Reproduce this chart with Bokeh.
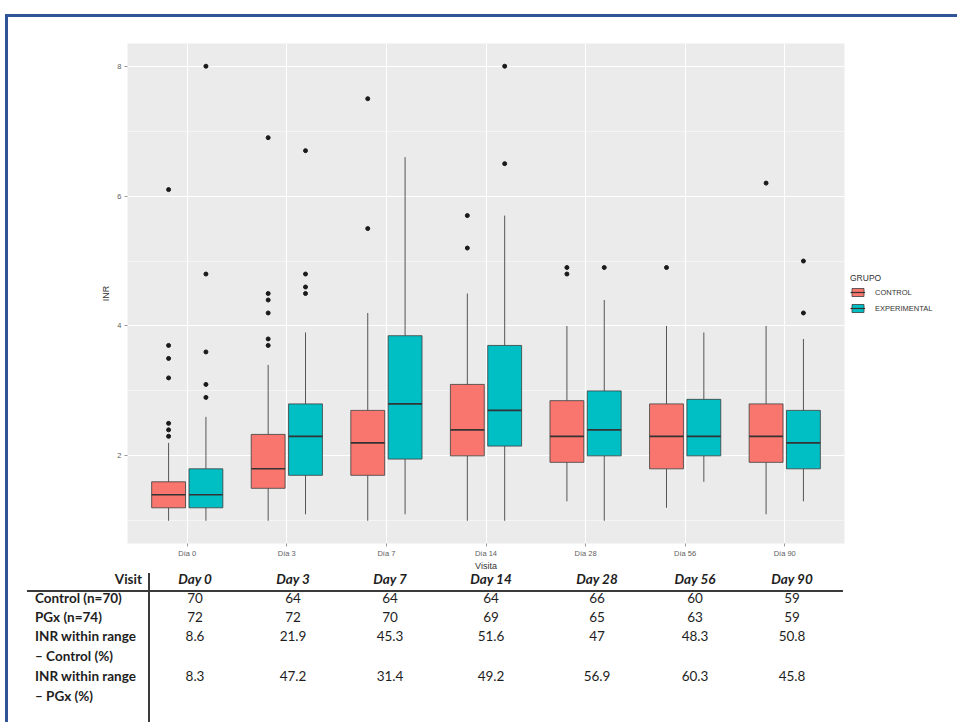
import numpy as np
from bokeh.plotting import figure
from bokeh.models import (Range1d, FixedTicker, Legend, LegendItem,
                          ColumnDataSource, Div)
from bokeh.layouts import column, row
from bokeh.embed import file_html
from bokeh.resources import INLINE

# ---------------- data ----------------
categories = ["Día 0", "Día 3", "Día 7", "Día 14", "Día 28", "Día 56", "Día 90"]
groups = ["CONTROL", "EXPERIMENTAL"]

ctrl_lower = [1.0, 1.0, 1.0, 1.0, 1.3, 1.2, 1.1]
ctrl_q1    = [1.2, 1.5, 1.7, 2.0, 1.9, 1.8, 1.9]
ctrl_med   = [1.4, 1.8, 2.2, 2.4, 2.3, 2.3, 2.3]
ctrl_q3    = [1.6, 2.33, 2.7, 3.1, 2.85, 2.8, 2.8]
ctrl_upper = [2.2, 3.4, 4.2, 4.5, 4.0, 4.0, 4.0]
ctrl_out = [[2.3, 2.4, 2.5, 3.2, 3.5, 3.7, 6.1],
            [3.7, 3.8, 4.2, 4.4, 4.5, 6.9],
            [5.5, 7.5],
            [5.2, 5.7],
            [4.8, 4.9],
            [4.9],
            [6.2]]

exp_lower = [1.0, 1.1, 1.1, 1.0, 1.0, 1.6, 1.3]
exp_q1    = [1.2, 1.7, 1.95, 2.15, 2.0, 2.0, 1.8]
exp_med   = [1.4, 2.3, 2.8, 2.7, 2.4, 2.3, 2.2]
exp_q3    = [1.8, 2.8, 3.85, 3.7, 3.0, 2.87, 2.7]
exp_upper = [2.6, 3.9, 6.6, 5.7, 4.4, 3.9, 3.8]
exp_out = [[2.9, 3.1, 3.6, 4.8, 8.0],
           [4.5, 4.6, 4.8, 6.7],
           [],
           [6.5, 8.0],
           [4.9],
           [],
           [4.2, 5.0]]

y_ticks = [2, 4, 6, 8]
y_minor = [1, 3, 5, 7]

visits = ["Day 0", "Day 3", "Day 7", "Day 14", "Day 28", "Day 56", "Day 90"]
control_n = ["70", "64", "64", "64", "66", "60", "59"]
pgx_n = ["72", "72", "70", "69", "65", "63", "59"]
inr_control = ["8.6", "21.9", "45.3", "51.6", "47", "48.3", "50.8"]
inr_pgx = ["8.3", "47.2", "31.4", "49.2", "56.9", "60.3", "45.8"]
row_labels = ["Control (n=70)", "PGx (n=74)", "INR within range", "– Control (%)",
              "INR within range", "– PGx (%)"]

# ---------------- styles ----------------
RED = "#F8766D"
TEAL = "#00BFC4"
BLUE = "#2F5597"
FONT = "Liberation Sans"
BOX_W = 0.34
DODGE = 0.1875
BOX_LINE = "#3c3c3c"
MED_LINE = "#333333"

PAGE_W = 957
FIG_H = 573
P_W = 846
L_W = PAGE_W - P_W


def blue_strips(width, height, left=True):
    imgs = [f"linear-gradient({BLUE}, {BLUE})"]
    sizes = [f"{width}px 3px"]
    pos = ["0px 14px" if not left else "5px 14px"]
    if left:
        imgs.append(f"linear-gradient({BLUE}, {BLUE})")
        sizes.append(f"3px {height}px")
        pos.append("5px 14px")
    return {"background-image": ", ".join(imgs), "background-size": ", ".join(sizes),
            "background-position": ", ".join(pos), "background-repeat": "no-repeat"}


# ---------------- box plot ----------------
p = figure(width=P_W, height=FIG_H, title=None,
           x_range=Range1d(0.4, 7.6), y_range=Range1d(0.65, 8.35),
           output_backend="svg", toolbar_location=None,
           min_border_left=127, min_border_right=P_W - 127 - 717,
           min_border_top=43, min_border_bottom=29)
p.background_fill_color = "#EBEBEB"
p.border_fill_alpha = 0
p.outline_line_color = None
p.styles = blue_strips(P_W, FIG_H, left=True)

xi = np.arange(1, len(categories) + 1, dtype=float)

p.xaxis.ticker = FixedTicker(ticks=list(xi))
p.xaxis.major_label_overrides = {float(x): c for x, c in zip(xi, categories)}
p.yaxis.ticker = FixedTicker(ticks=y_ticks, minor_ticks=y_minor)
for ax in (p.xaxis, p.yaxis):
    ax.axis_line_color = None
    ax.major_tick_in = 0
    ax.major_tick_out = 3
    ax.major_tick_line_color = "#9a9a9a"
    ax.minor_tick_line_color = None
    ax.major_label_text_font = FONT
    ax.major_label_text_font_size = "7.5px"
    ax.major_label_text_color = "#5e5e5e"
    ax.major_label_standoff = 2
    ax.axis_label_text_font = FONT
    ax.axis_label_text_font_style = "normal"
    ax.axis_label_text_color = "#333333"
    ax.axis_label_text_font_size = "9px"
p.xaxis.axis_label = "Visita"
p.xaxis.axis_label_standoff = 0
p.yaxis.axis_label = "INR"
p.yaxis.axis_label_standoff = 3

p.xgrid.ticker = FixedTicker(ticks=list(xi))
p.xgrid.grid_line_color = "white"
p.xgrid.grid_line_width = 1.1
p.ygrid.grid_line_color = "white"
p.ygrid.grid_line_width = 1.1
p.ygrid.minor_grid_line_color = "white"
p.ygrid.minor_grid_line_width = 0.5


def draw_group(xs, lower, q1, med, q3, upper, outs, color):
    src = ColumnDataSource(dict(x=xs, xl=xs - BOX_W / 2, xr=xs + BOX_W / 2,
                                lower=lower, q1=q1, med=med, q3=q3, upper=upper))
    p.segment(x0="x", y0="q3", x1="x", y1="upper", source=src,
              line_color="#555555", line_width=1)
    p.segment(x0="x", y0="q1", x1="x", y1="lower", source=src,
              line_color="#555555", line_width=1)
    p.vbar(x="x", width=BOX_W, bottom="q1", top="q3", source=src,
           fill_color=color, line_color=BOX_LINE, line_width=0.8)
    p.segment(x0="xl", y0="med", x1="xr", y1="med", source=src,
              line_color=MED_LINE, line_width=1.6)
    ox, oy = [], []
    for x, vals in zip(xs, outs):
        for v in vals:
            ox.append(x)
            oy.append(v)
    p.scatter(x=ox, y=oy, size=4, color="#1a1a1a")


draw_group(xi - DODGE, ctrl_lower, ctrl_q1, ctrl_med, ctrl_q3,
           ctrl_upper, ctrl_out, RED)
draw_group(xi + DODGE, exp_lower, exp_q1, exp_med, exp_q3,
           exp_upper, exp_out, TEAL)

# ---------------- legend (its own small canvas to the right of the panel) ----------------
lf = figure(width=L_W, height=FIG_H, title=None,
            x_range=Range1d(0, 1), y_range=Range1d(0, 1),
            output_backend="svg", toolbar_location=None,
            x_axis_type=None, y_axis_type=None,
            min_border_left=0, min_border_right=0,
            min_border_top=43, min_border_bottom=29)
lf.grid.visible = False
lf.outline_line_color = None
lf.background_fill_alpha = 0
lf.border_fill_alpha = 0
lf.styles = blue_strips(L_W, FIG_H, left=False)

items = []
for g, col in zip(groups, [RED, TEAL]):
    # key-only renderers, kept outside the (hidden) range of this legend canvas
    rb = lf.vbar(x=[5], top=[6], bottom=[5], width=0.1, fill_color=col,
                 line_color=BOX_LINE, line_width=0.8)
    rm = lf.segment(x0=[5], y0=[5], x1=[6], y1=[5], line_color=MED_LINE, line_width=1.2)
    items.append(LegendItem(label=g, renderers=[rb, rm]))

legend = Legend(items=items, title="GRUPO", location=(4, 229), orientation="vertical",
                border_line_color=None, background_fill_alpha=0,
                glyph_width=15, glyph_height=10, label_height=12,
                spacing=4, padding=4, margin=0, label_standoff=10,
                title_standoff=3,
                label_text_font=FONT, label_text_font_size="7.5px",
                label_text_color="#333333",
                title_text_font=FONT, title_text_font_size="8.5px",
                title_text_font_style="normal", title_text_color="#333333")
lf.add_layout(legend)

# ---------------- table (HTML text, positioned in px inside the block) ----------------
TBL_H = 149
col_x = [195, 293, 390, 491, 597, 695, 792]
header_y = 7
row_y = [26, 45, 64, 84, 104, 124]
label_x = 35
TXT = "#1e1e1e"
FS = "13.5px"


def cell(x, y, s, anchor="center", weight="normal", style="normal"):
    tx = {"center": "-50%", "left": "0", "right": "-100%"}[anchor]
    return (f'<div style="position:absolute;left:{x}px;top:{y}px;'
            f'transform:translate({tx},-50%);white-space:nowrap;line-height:1;'
            f'font-weight:{weight};font-style:{style};">{s}</div>')


parts = []
parts.append(f'<div style="position:absolute;left:5px;top:0px;width:3px;'
             f'height:{TBL_H}px;background:{BLUE};"></div>')
parts.append('<div style="position:absolute;left:27px;top:16.5px;width:816px;'
             'height:2.5px;background:#3a3a3a;"></div>')
parts.append(f'<div style="position:absolute;left:147.5px;top:0px;width:2px;'
             f'height:{TBL_H}px;background:#3a3a3a;"></div>')
parts.append(cell(142, header_y, "Visit", "right", "bold"))
for x, v in zip(col_x, visits):
    parts.append(cell(x, header_y, v, "center", "bold", "italic"))
for y, lab in zip(row_y, row_labels):
    parts.append(cell(label_x, y, lab, "left", "bold"))
for vals, y in ((control_n, row_y[0]), (pgx_n, row_y[1]),
                (inr_control, row_y[2]), (inr_pgx, row_y[4])):
    for x, v in zip(col_x, vals):
        parts.append(cell(x, y, v))

html = (f'<div style="position:relative;width:{PAGE_W}px;height:{TBL_H}px;'
        f'font-family:Lato,sans-serif;font-size:{FS};color:{TXT};">'
        + "".join(parts) + "</div>")
table = Div(text=html, width=PAGE_W, height=TBL_H, margin=0)

# ---------------- page ----------------
layout = column(row(p, lf, spacing=0), table, spacing=0)

open("out.html", "w").write(file_html(layout, INLINE))
